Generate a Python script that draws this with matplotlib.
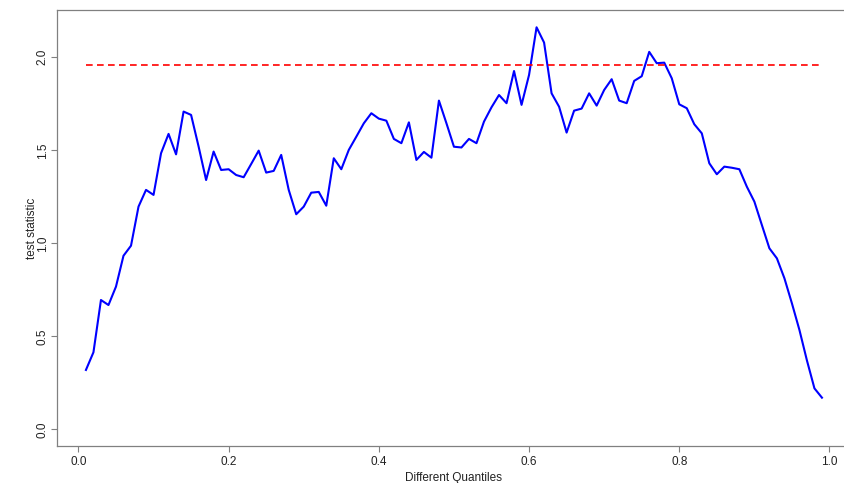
import matplotlib
matplotlib.use("Agg")
import matplotlib.pyplot as plt

quantiles = [round(0.01 * k, 2) for k in range(1, 100)]
test_stat = [
    0.319, 0.414, 0.695, 0.668, 0.767, 0.933, 0.987, 1.197, 1.287, 1.260,
    1.484, 1.588, 1.478, 1.708, 1.690, 1.520, 1.340, 1.493, 1.394, 1.398,
    1.367, 1.355, 1.426, 1.498, 1.380, 1.389, 1.475, 1.287, 1.156, 1.197,
    1.272, 1.276, 1.202, 1.457, 1.398, 1.502, 1.573, 1.645, 1.699, 1.670,
    1.659, 1.561, 1.538, 1.650, 1.448, 1.491, 1.460, 1.767, 1.645, 1.519,
    1.515, 1.561, 1.538, 1.654, 1.731, 1.797, 1.753, 1.926, 1.744, 1.905,
    2.161, 2.079, 1.806, 1.734, 1.595, 1.713, 1.724, 1.806, 1.740, 1.824,
    1.882, 1.767, 1.753, 1.873, 1.898, 2.029, 1.968, 1.971, 1.887, 1.747,
    1.726, 1.640, 1.591, 1.430, 1.371, 1.412, 1.406, 1.398, 1.304, 1.224,
    1.098, 0.973, 0.919, 0.812, 0.677, 0.534, 0.370, 0.220, 0.170,
]
critical_value = 1.96
x_ticks = [0.0, 0.2, 0.4, 0.6, 0.8, 1.0]
y_ticks = [0.0, 0.5, 1.0, 1.5, 2.0]

W, H = 844, 483
fig = plt.figure(figsize=(W / 100, H / 100), dpi=100)
left, right, top, bottom = 56.5, 851.4, 10, 446
ax = fig.add_axes([left / W, (H - bottom) / H, (right - left) / W, (bottom - top) / H])

ax.plot(quantiles, test_stat, color="#0000FF", lw=1.5, solid_joinstyle="round")
ax.plot([quantiles[0], quantiles[-1]], [critical_value, critical_value],
        color="#FF0000", lw=1.2, dashes=(4, 2.6))

ax.set_xlim(-0.0292, 1.0292)
ax.set_ylim(-0.0898, 2.254)

for s in ax.spines.values():
    s.set_color("#808080")
    s.set_linewidth(0.9)

font = ["Liberation Sans Narrow", "Liberation Sans", "DejaVu Sans"]
ax.set_xticks(x_ticks)
ax.set_xticklabels([f"{v:.1f}" for v in x_ticks], family=font, fontsize=8.5)
ax.set_yticks(y_ticks)
ax.set_yticklabels([f"{v:.1f}" for v in y_ticks], family=["Liberation Sans"], fontsize=8.5,
                   rotation=90, va="center")
ax.tick_params(axis="both", direction="out", length=4, width=0.8, color="#808080",
               labelcolor="#222222")
ax.tick_params(axis="x", pad=3)
ax.tick_params(axis="y", pad=1.5)

ax.set_xlabel("Different Quantiles", family=font, fontsize=8.5, labelpad=3, color="#222222")
ax.set_ylabel("test statistic", family=["Liberation Sans"], fontsize=8.5, labelpad=-1, color="#222222")

fig.savefig("out.png", dpi=100, facecolor="white")
